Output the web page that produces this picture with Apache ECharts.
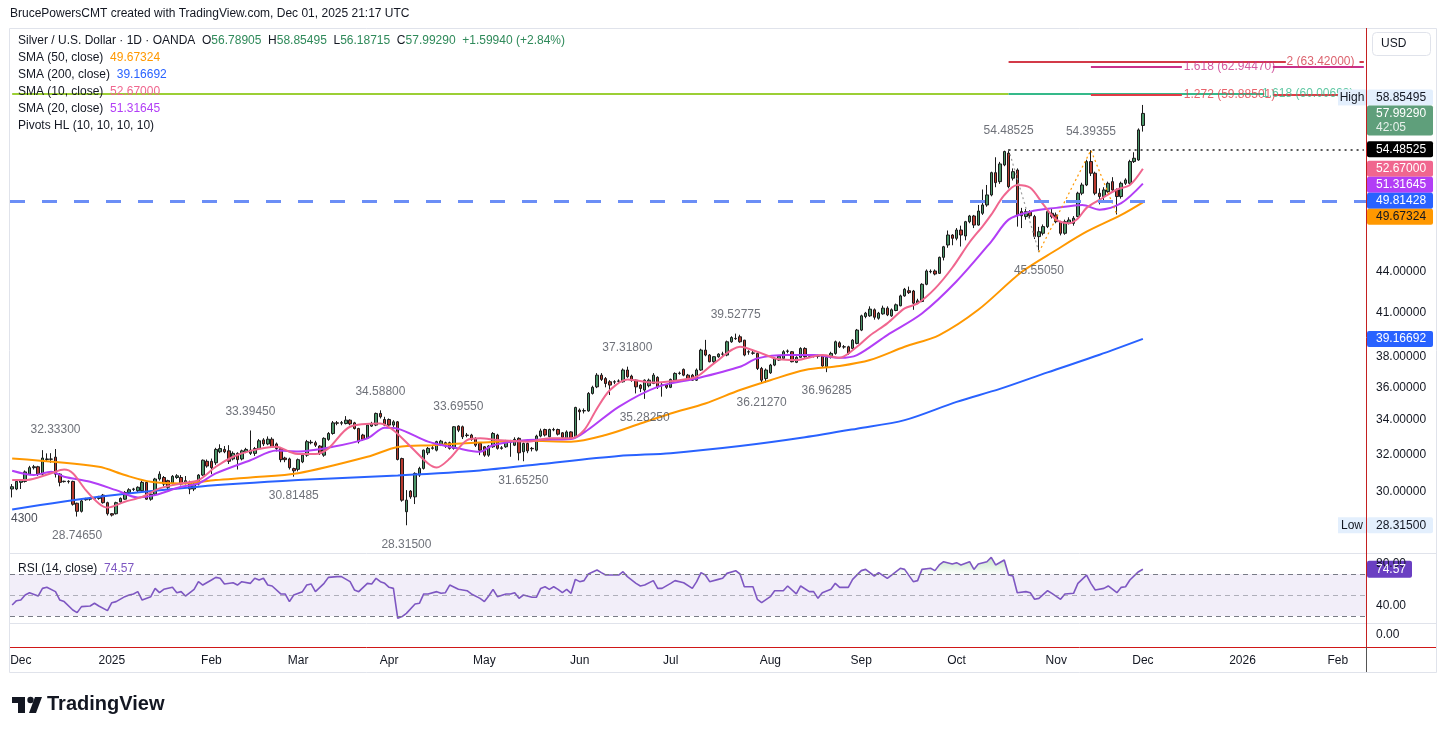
<!DOCTYPE html>
<html>
<head>
<meta charset="utf-8">
<title>Silver / U.S. Dollar · 1D · OANDA</title>
<script src="https://cdn.jsdelivr.net/npm/echarts@6/dist/echarts.min.js"></script>
<style>
  html, body { margin: 0; padding: 0; background: #ffffff; }
  #chart { width: 1445px; height: 734px; }
</style>
</head>
<body>
<div id="chart"></div>
<script>
// daily bars, first bar = 28 Nov 2024, last bar = 1 Dec 2025
const opens = [
  30.16, 30.16, 30.51, 30.56, 30.95, 31.30, 31.35, 30.95, 31.75, 31.78,
  31.88, 30.95, 30.55, 30.57, 30.56, 29.42, 29.01, 29.60, 29.63, 29.66,
  29.67, 29.84, 29.45, 28.89, 28.89, 29.49, 29.63, 29.98, 30.14, 30.07,
  30.07, 30.51, 29.63, 29.89, 30.69, 30.77, 30.60, 30.47, 30.77, 30.77,
  30.51, 30.51, 30.16, 30.42, 30.90, 31.65, 31.65, 31.57, 32.18, 32.31,
  32.23, 31.78, 32.09, 31.78, 32.18, 32.09, 32.09, 32.36, 32.85, 32.62,
  32.89, 32.62, 32.36, 31.83, 31.78, 31.25, 31.21, 31.62, 31.99, 32.72,
  32.69, 32.50, 31.99, 32.88, 33.22, 33.84, 33.82, 33.80, 34.00, 33.84,
  33.51, 33.13, 32.94, 33.65, 33.71, 34.40, 34.04, 34.04, 33.71, 33.90,
  31.80, 28.99, 30.05, 29.75, 30.90, 31.26, 32.12, 32.37, 32.27, 32.55,
  32.69, 32.69, 32.37, 33.65, 33.61, 33.10, 33.13, 32.94, 32.65, 32.46,
  31.99, 32.46, 33.13, 32.37, 32.46, 32.75, 32.55, 32.94, 32.18, 32.65,
  32.37, 32.27, 33.07, 33.45, 33.03, 33.45, 33.45, 33.26, 32.94, 33.31,
  33.00, 34.60, 34.55, 34.55, 35.62, 36.03, 36.77, 36.55, 36.35, 36.35,
  36.38, 36.35, 37.10, 36.71, 36.45, 36.14, 35.83, 36.10, 36.24, 36.63,
  36.14, 36.14, 36.00, 36.45, 36.88, 37.14, 36.77, 36.77, 36.45, 37.10,
  38.41, 38.08, 37.64, 37.97, 38.14, 38.08, 38.97, 39.20, 39.31, 39.08,
  38.30, 38.22, 38.19, 37.20, 36.55, 36.92, 37.42, 37.75, 37.86, 38.33,
  38.30, 37.60, 37.93, 38.52, 38.00, 38.02, 38.02, 38.02, 37.31, 37.93,
  38.19, 38.90, 38.63, 38.63, 38.52, 38.86, 39.77, 40.72, 40.77, 41.20,
  40.60, 40.91, 41.32, 40.77, 41.15, 41.49, 42.21, 42.59, 42.57, 41.68,
  41.80, 43.07, 44.02, 44.08, 43.90, 45.14, 46.12, 46.93, 46.66, 47.34,
  46.85, 48.03, 48.51, 47.75, 48.74, 49.45, 50.32, 52.31, 51.50, 53.02,
  54.12, 51.81, 52.55, 48.88, 48.46, 48.88, 48.46, 46.80, 47.07, 47.62,
  48.74, 48.60, 48.03, 47.07, 47.89, 47.89, 48.46, 50.47, 51.20, 53.33,
  52.26, 50.47, 50.18, 50.61, 51.50, 50.76, 50.18, 51.35, 51.35, 53.33,
  53.48, 56.78905
];
const highs = [
  30.42, 30.60, 30.69, 31.15, 31.40, 31.45, 31.40, 32.27, 32.09, 32.10,
  32.333, 31.00, 30.60, 30.62, 30.60, 29.45, 29.60, 29.70, 29.72, 29.72,
  29.80, 29.90, 29.50, 28.92, 29.50, 29.72, 30.05, 30.20, 30.22, 30.30,
  30.60, 30.55, 29.95, 30.75, 31.10, 30.85, 30.65, 30.90, 30.95, 30.90,
  30.85, 30.60, 30.50, 30.95, 31.75, 31.75, 31.80, 32.40, 32.60, 32.50,
  32.55, 32.20, 32.15, 32.30, 32.40, 33.3945, 32.45, 32.90, 32.95, 33.05,
  33.00, 32.70, 32.45, 31.90, 31.85, 31.30, 31.80, 32.05, 32.85, 32.85,
  32.80, 32.55, 33.00, 33.30, 33.95, 33.95, 33.95, 34.24, 34.05, 33.90,
  33.55, 33.20, 33.75, 33.90, 34.45, 34.588, 34.20, 34.10, 34.00, 33.95,
  31.85, 30.10, 30.10, 31.05, 31.35, 32.30, 32.45, 32.55, 32.80, 32.85,
  32.75, 32.75, 33.65, 33.6955, 33.68, 33.25, 33.20, 33.00, 32.70, 32.50,
  32.55, 33.30, 33.20, 32.50, 32.85, 32.85, 33.00, 33.00, 32.70, 32.70,
  32.45, 33.15, 33.50, 33.50, 33.50, 33.55, 33.50, 33.30, 33.40, 33.35,
  34.80, 34.70, 34.70, 35.70, 36.10, 36.90, 36.90, 36.65, 36.45, 36.45,
  36.50, 37.20, 37.318, 36.80, 36.50, 36.20, 36.50, 36.55, 36.90, 36.70,
  36.30, 36.20, 36.55, 36.95, 37.00, 37.20, 36.85, 36.85, 37.20, 38.50,
  39.10, 38.15, 38.00, 38.20, 38.30, 39.05, 39.35, 39.52775, 39.45, 39.10,
  38.40, 38.35, 38.25, 37.30, 37.20, 37.50, 37.95, 38.05, 38.40, 38.45,
  38.35, 38.00, 38.60, 38.60, 38.10, 38.12, 38.10, 38.05, 38.00, 38.30,
  39.05, 39.00, 38.75, 38.70, 39.15, 39.85, 40.85, 41.05, 41.45, 41.30,
  41.05, 41.50, 41.45, 41.30, 41.65, 42.30, 42.80, 42.90, 42.65, 42.00,
  43.15, 44.20, 44.20, 44.20, 45.20, 46.05, 47.30, 47.00, 47.50, 47.70,
  48.10, 48.60, 48.60, 49.45, 50.80, 51.20, 52.40, 53.73, 53.30, 54.35,
  54.48525, 52.70, 52.70, 49.20, 49.10, 49.00, 48.60, 47.60, 47.80, 49.00,
  49.10, 48.80, 48.10, 48.20, 48.40, 48.50, 50.60, 51.40, 53.50, 54.39355,
  52.40, 50.90, 51.00, 51.50, 51.90, 50.90, 51.50, 51.80, 53.50, 54.20,
  56.50, 58.85495
];
const lows = [
  29.72, 30.10, 30.16, 30.50, 30.90, 31.20, 30.85, 30.90, 31.65, 31.57,
  30.77, 30.30, 30.50, 30.45, 29.30, 28.7465, 28.95, 29.55, 29.55, 29.60,
  29.60, 29.40, 28.80, 28.75, 28.85, 29.45, 29.60, 29.90, 30.05, 30.00,
  30.00, 29.60, 29.55, 29.85, 30.60, 30.30, 30.10, 30.40, 30.70, 30.35,
  30.40, 29.89, 30.05, 30.35, 30.85, 31.30, 30.95, 31.45, 32.10, 32.10,
  31.50, 31.70, 31.20, 31.70, 32.10, 32.00, 31.95, 32.30, 32.50, 32.55,
  32.40, 32.20, 31.60, 31.60, 31.20, 30.81485, 31.10, 31.55, 31.90, 32.60,
  32.45, 32.00, 31.90, 32.80, 33.15, 33.70, 33.70, 33.75, 33.70, 33.45,
  32.65, 32.80, 32.90, 33.60, 33.65, 34.10, 33.65, 33.60, 33.60, 31.70,
  29.50, 28.315, 29.65, 29.38, 30.80, 31.20, 32.00, 32.30, 32.20, 32.50,
  32.40, 32.30, 32.30, 33.30, 32.90, 33.00, 32.80, 32.45, 31.99, 31.90,
  31.90, 32.40, 32.30, 32.30, 32.40, 31.90, 32.50, 31.70, 31.6525, 32.10,
  32.20, 32.20, 33.00, 33.05, 33.00, 33.35, 33.10, 32.95, 32.85, 32.85,
  32.95, 34.00, 34.40, 34.50, 35.55, 35.95, 36.40, 36.00, 35.52, 36.20,
  36.25, 36.30, 36.60, 36.35, 35.62, 35.70, 35.2825, 36.00, 36.20, 35.90,
  35.42, 35.90, 35.95, 36.40, 36.80, 36.70, 36.40, 36.40, 36.40, 37.05,
  38.00, 37.60, 37.50, 37.90, 38.00, 38.00, 38.90, 39.10, 38.90, 38.00,
  38.10, 38.10, 37.10, 36.2127, 36.30, 36.85, 37.35, 37.70, 37.80, 38.20,
  37.60, 37.55, 37.90, 37.90, 37.90, 37.92, 37.85, 37.30, 36.96285, 37.85,
  38.10, 38.55, 38.50, 38.10, 38.45, 38.80, 39.70, 40.60, 40.70, 40.50,
  40.50, 40.85, 40.75, 40.70, 41.10, 41.45, 42.15, 42.35, 41.20, 41.60,
  41.75, 43.00, 43.90, 43.75, 43.85, 44.90, 45.90, 46.10, 46.50, 46.00,
  46.50, 47.90, 47.50, 47.70, 48.60, 49.30, 50.20, 51.00, 51.30, 52.90,
  50.90, 51.60, 47.62, 47.50, 48.20, 48.30, 46.60, 45.5505, 46.90, 47.50,
  48.30, 47.90, 46.90, 46.95, 47.80, 47.70, 48.40, 50.30, 51.10, 52.00,
  50.30, 49.50, 49.80, 50.50, 50.60, 48.63665, 50.00, 51.20, 51.20, 53.20,
  53.40, 56.18715
];
const closes = [
  30.28, 30.56, 30.60, 31.07, 31.30, 31.35, 30.95, 31.83, 31.78, 31.76,
  30.95, 30.51, 30.57, 30.55, 29.37, 29.01, 29.54, 29.63, 29.66, 29.67,
  29.77, 29.45, 28.89, 28.82, 29.45, 29.67, 29.98, 30.12, 30.16, 30.25,
  30.51, 29.63, 29.89, 30.69, 30.95, 30.42, 30.25, 30.83, 30.86, 30.42,
  30.60, 30.16, 30.42, 30.90, 31.71, 31.39, 31.30, 32.31, 32.36, 32.18,
  31.65, 32.09, 31.74, 32.23, 32.31, 32.27, 32.36, 32.80, 32.62, 32.89,
  32.45, 32.36, 31.74, 31.74, 31.30, 31.13, 31.74, 31.99, 32.75, 32.69,
  32.55, 32.08, 32.94, 33.22, 33.84, 33.82, 33.85, 34.00, 33.78, 33.51,
  32.75, 32.88, 33.71, 33.80, 34.40, 34.20, 33.71, 33.71, 33.90, 31.75,
  29.58, 29.58, 29.75, 30.99, 31.26, 32.27, 32.37, 32.40, 32.75, 32.78,
  32.50, 32.37, 33.61, 33.41, 33.03, 33.13, 32.88, 32.55, 32.27, 31.99,
  32.50, 33.22, 32.37, 32.40, 32.75, 32.72, 32.88, 32.12, 32.65, 32.23,
  32.35, 33.07, 33.37, 33.13, 33.45, 33.43, 33.18, 33.00, 33.31, 32.94,
  34.76, 34.50, 34.57, 35.62, 36.00, 36.77, 36.50, 36.24, 36.14, 36.33,
  36.40, 37.10, 36.67, 36.45, 36.03, 35.93, 36.45, 36.45, 36.77, 36.03,
  36.12, 36.00, 36.50, 36.88, 36.90, 36.77, 36.45, 36.45, 37.10, 38.41,
  38.08, 37.64, 37.97, 38.14, 38.15, 38.97, 39.26, 39.18, 38.97, 38.08,
  38.28, 38.20, 37.20, 36.45, 37.10, 37.42, 37.86, 38.00, 38.30, 38.35,
  37.64, 37.93, 38.52, 37.97, 38.02, 38.05, 38.00, 37.36, 37.93, 38.19,
  38.97, 38.63, 38.62, 38.19, 39.08, 39.77, 40.77, 40.96, 41.25, 40.67,
  40.96, 41.32, 40.84, 41.20, 41.56, 42.21, 42.70, 42.45, 41.68, 41.85,
  43.07, 44.08, 44.05, 43.85, 45.14, 45.98, 46.93, 46.66, 47.34, 46.93,
  48.03, 48.51, 47.75, 48.93, 49.45, 50.32, 52.31, 51.41, 53.11, 54.27,
  51.05, 52.40, 48.60, 48.53, 48.88, 48.53, 46.80, 47.20, 47.62, 48.88,
  48.46, 48.03, 47.07, 48.03, 48.17, 48.32, 50.47, 51.20, 53.33, 52.26,
  50.47, 50.18, 50.76, 51.35, 50.76, 50.18, 51.35, 51.65, 53.33, 53.64,
  56.35, 57.99290
];

// moving averages, read as [bar, value] points along each line
const sma10Points = [
  [0, 30.63], [3, 30.63], [6, 30.77], [9, 31.0], [12, 31.2], [14, 31.0], [17, 30.1], [20, 29.41],
  [22, 29.2], [26, 29.5], [30, 29.75], [34, 30.19], [39, 30.45], [43, 30.63], [47, 31.35], [51, 31.9],
  [55, 32.23], [61, 32.46], [64, 32.18], [66, 32.05], [70, 32.05], [73, 32.37], [78, 33.61], [85, 33.8],
  [88, 33.41], [92, 32.46], [96, 31.53], [98, 31.31], [101, 31.8], [105, 32.84], [108, 32.94], [112, 32.84],
  [119, 32.75], [124, 32.94], [129, 32.94], [132, 33.41], [135, 34.7], [138, 35.83], [142, 36.5], [148, 36.3],
  [154, 36.45], [158, 36.67], [162, 37.53], [168, 38.63], [172, 38.3], [177, 37.8], [181, 37.75], [187, 38.08],
  [191, 37.9], [195, 38.63], [198, 39.4], [202, 40.24], [206, 41.3], [209, 41.66], [213, 42.75], [217, 44.33],
  [221, 46.34], [224, 47.65], [226, 48.62], [229, 50.3], [232, 51.19], [235, 50.95], [238, 49.5], [241, 48.2],
  [244, 47.9], [246, 48.3], [248, 49.2], [251, 49.9], [255, 50.8], [258, 51.2], [261, 52.67]
];
const sma20Points = [
  [0, 31.13], [5, 30.9], [9, 31.08], [12, 30.81], [18, 30.54], [24, 30.1], [29, 29.72], [33, 29.84],
  [39, 30.28], [43, 30.45], [47, 30.99], [55, 31.71], [61, 32.25], [66, 32.2], [74, 32.46], [82, 32.94],
  [86, 33.55], [89, 33.5], [96, 32.75], [103, 32.37], [108, 32.18], [111, 32.55], [119, 32.84], [129, 32.9],
  [133, 33.45], [140, 34.8], [149, 36.03], [158, 36.56], [168, 37.31], [172, 37.86], [179, 38.08], [185, 38.08],
  [191, 37.9], [195, 38.08], [202, 39.43], [210, 40.94], [218, 43.3], [226, 46.4], [230, 48.2], [235, 48.88],
  [241, 49.2], [247, 49.45], [251, 49.05], [256, 49.6], [261, 51.31645]
];
const sma50Points = [
  [0, 31.8], [20, 31.35], [26, 30.9], [32, 30.54], [39, 30.45], [47, 30.63], [55, 30.77], [66, 31.0],
  [82, 31.9], [89, 32.45], [97, 32.55], [108, 32.7], [119, 32.8], [129, 32.75], [137, 33.13], [145, 33.8],
  [152, 34.4], [160, 35.0], [168, 35.83], [175, 36.45], [183, 37.1], [191, 37.36], [198, 37.75], [206, 38.63],
  [214, 39.43], [223, 41.2], [233, 44.0], [241, 45.72], [248, 47.2], [256, 48.6], [261, 49.67324]
];
const sma200Points = [
  [0, 29.1], [20, 29.75], [43, 30.28], [66, 30.63], [89, 30.88], [108, 31.15], [122, 31.5], [140, 31.94],
  [152, 32.1], [168, 32.5], [183, 33.0], [195, 33.5], [206, 34.0], [218, 35.1], [228, 35.9], [239, 36.95],
  [251, 38.1], [261, 39.16692]
];

// RSI(14) read as [bar, value]
const rsiPoints = [
  [0, 40.5], [1, 44.6], [2, 45.2], [3, 50], [4, 52.2], [6, 49], [7, 56.3], [8, 57.3], [10, 53.2], [11, 45.2],
  [12, 43.7], [14, 35.7], [15, 33.2], [16, 38.9], [18, 39.5], [19, 42.1], [20, 39.5], [22, 35.1], [23, 42.7], [24, 43.7],
  [26, 48.4], [27, 50], [28, 51], [29, 53.2], [30, 45.2], [32, 48.4], [33, 56.3], [34, 52.2], [35, 55.4], [37, 57.3],
  [38, 52.2], [39, 53.2], [40, 49], [42, 55.4], [43, 62.7], [44, 59.5], [46, 64.3], [47, 66.8], [48, 65.9], [49, 60.5],
  [51, 61.7], [52, 59.5], [53, 62.7], [55, 61.1], [56, 65.9], [57, 64.3], [58, 65.9], [59, 59.5], [60, 58.6], [62, 51],
  [63, 51], [64, 43.7], [65, 50], [67, 53.2], [68, 59.5], [69, 60.5], [70, 53.2], [72, 61.1], [73, 66.8], [75, 67.5],
  [76, 67.5], [78, 62.7], [79, 54.8], [80, 53.2], [82, 61.1], [83, 60.5], [84, 65.9], [85, 62.7], [86, 61.1], [87, 57.3],
  [88, 56.3], [89, 27.8], [90, 29.4], [91, 32.5], [93, 41.4], [94, 42.1], [95, 51], [96, 51], [98, 53.2], [99, 51.6],
  [100, 52.2], [101, 59.5], [103, 55.4], [105, 54.1], [106, 51], [108, 46.8], [109, 43.7], [110, 49], [111, 55.4], [112, 48.4],
  [114, 51], [115, 51], [116, 52.2], [117, 46.8], [118, 50], [120, 47.8], [121, 47.8], [122, 56.3], [123, 57.9], [124, 55.4],
  [125, 57.9], [126, 55.4], [127, 52.2], [128, 55.4], [129, 51.6], [130, 64.9], [131, 62.7], [132, 63.7], [133, 70], [135, 73.8],
  [136, 71.3], [137, 69], [139, 69], [140, 69], [141, 72.2], [142, 67.5], [144, 61.1], [145, 58.6], [146, 59.5], [148, 63.7],
  [149, 56.3], [150, 56.3], [152, 61.1], [153, 63.7], [155, 61.7], [157, 56.3], [158, 62.7], [159, 71.3], [160, 69], [161, 62.7],
  [163, 64.9], [164, 65.9], [165, 70.6], [167, 73.2], [168, 70], [169, 57.9], [171, 57.9], [172, 45.9], [173, 42.7], [175, 48.4],
  [176, 54.1], [178, 54.1], [179, 58.6], [181, 51], [182, 58.6], [184, 53.2], [185, 53.2], [186, 46.8], [187, 52.2], [189, 55.4],
  [190, 61.1], [191, 57.3], [193, 57.3], [194, 64.9], [196, 73.2], [197, 74.4], [199, 68.1], [200, 71.3], [202, 65.9], [203, 69],
  [205, 75.4], [206, 74.4], [208, 62.7], [209, 63.7], [210, 74.4], [212, 75.4], [213, 73.2], [214, 78.6], [215, 81.7], [217, 79.5],
  [218, 80.8], [219, 78.6], [221, 81.7], [222, 74.4], [223, 79.5], [225, 81.7], [226, 85.9], [227, 78.6], [229, 83.3], [230, 69],
  [231, 68.1], [232, 52.2], [234, 53.2], [235, 52.2], [236, 45.9], [237, 46.8], [239, 54.1], [240, 51.6], [242, 45.9], [243, 51],
  [245, 51.6], [246, 61.1], [248, 69], [249, 61.1], [250, 54.8], [252, 56.3], [253, 58.6], [255, 52.2], [256, 57.3], [257, 57.9],
  [258, 64.3], [260, 72.2], [261, 74.57]
];

// pivots HL (10,10,10,10)
const pivotHighBars = [10, 55, 85, 103, 142, 167, 230, 249];
const pivotHighVals = [32.333, 33.3945, 34.588, 33.6955, 37.318, 39.52775, 54.48525, 54.39355];
const pivotLowBars = [15, 65, 91, 118, 146, 173, 188, 237];
const pivotLowVals = [28.7465, 30.81485, 28.315, 31.6525, 35.2825, 36.2127, 36.96285, 45.5505];

// drawings: dashed support line, fib level lines and their captions
const hLineLevel = 49.81428;
const fibNames = ['2', '1.618', '1.272', '1.618'];
const fibVals = [63.42, 62.9447, 59.88501, 60.00693];
const fibColors = ['#d33a48', '#c8318a', '#e23b46', '#35b98a'];

const priceTicks = [30, 32, 34, 36, 38, 41, 44];
const rsiTicks = [40, 80];
const lastRsi = 74.57;

// weekday calendar (OANDA had no bar on 25 Dec 2024), running past the last bar into Feb 2026
const dates = (function () {
  const res = [];
  let d = new Date(Date.UTC(2024, 10, 28));
  while (res.length < 313) {
    const key = d.toISOString().slice(0, 10);
    const wd = d.getUTCDay();
    if (wd !== 0 && wd !== 6 && key !== '2024-12-25') res.push(key);
    d = new Date(+d + 86400000);
  }
  return res;
})();
const monthNames = ['Jan', 'Feb', 'Mar', 'Apr', 'May', 'Jun', 'Jul', 'Aug', 'Sep', 'Oct', 'Nov', 'Dec'];

const FONT = "'Liberation Sans', Arial, sans-serif";
const ink = '#131722';
const upColor = '#4b9468';
const downColor = '#b8392e';
const lastBar = dates.length - 1;

const chart = echarts.init(document.getElementById('chart'));

function segment(from, to, value, style) {
  return [{ coord: [from, value], lineStyle: style }, { coord: [to, value] }];
}
const solid = (color, width) => ({ color, width: width || 2, type: 'solid' });

const hiddenAxis = {
  axisLine: { show: false }, axisTick: { show: false },
  axisLabel: { show: false }, splitLine: { show: false }
};

const option = {
  animation: false,
  backgroundColor: '#ffffff',
  textStyle: { fontFamily: FONT },
  grid: [
    { left: 10, right: 79, top: 28, height: 525 },
    { left: 10, right: 79, top: 553, height: 70 },
    { left: 10, right: 79, top: 623, height: 24 }
  ],
  xAxis: [0, 1, 2].map(g => Object.assign({
    type: 'category', gridIndex: g, data: dates, boundaryGap: true
  }, hiddenAxis, g === 2 ? {
    axisLabel: {
      show: true, color: ink, fontSize: 12, fontFamily: FONT, margin: 8,
      interval: (i, v) => i > 0 && v.slice(5, 7) !== dates[i - 1].slice(5, 7),
      formatter: v => (v.slice(5, 7) === '01' ? v.slice(0, 4) : monthNames[+v.slice(5, 7) - 1])
    }
  } : {})),
  yAxis: [
    Object.assign({ type: 'log', gridIndex: 0, position: 'right', min: 26.98, max: 67.29 }, hiddenAxis),
    Object.assign({ type: 'value', gridIndex: 1, position: 'right', min: 23.33, max: 90 }, hiddenAxis),
    Object.assign({ type: 'value', gridIndex: 2, position: 'right', min: -1, max: 1 }, hiddenAxis)
  ],
  series: [
    {
      name: 'XAGUSD', type: 'candlestick', xAxisIndex: 0, yAxisIndex: 0, z: 2,
      data: opens.map((o, i) => [o, closes[i], lows[i], highs[i]]),
      barWidth: 3,
      itemStyle: { color: upColor, color0: downColor, borderColor: '#1b1b1b', borderColor0: '#1b1b1b', borderWidth: 1 },
      markLine: {
        silent: true, symbol: ['none', 'none'], label: { show: false }, animation: false,
        data: [
          { yAxis: hLineLevel, lineStyle: { color: '#6b8ef6', width: 3, type: [15, 17] } },
          segment(0, 230, fibVals[3], solid('#9ccf35')),
          segment(230, 289, fibVals[3], solid(fibColors[3])),
          segment(230, 294, fibVals[0], solid(fibColors[0])),
          segment(311, lastBar, fibVals[0], solid(fibColors[0])),
          segment(249, 270, fibVals[1], solid(fibColors[1])),
          segment(291, lastBar, fibVals[1], solid(fibColors[1])),
          segment(249, 270, fibVals[2], solid(fibColors[2])),
          segment(291, lastBar, fibVals[2], solid(fibColors[2])),
          segment(230, lastBar, pivotHighVals[6], { color: '#222222', width: 1.5, type: [2, 4] })
        ]
      }
    },
    { name: 'SMA200', type: 'line', data: sma200Points, smooth: 0.3, showSymbol: false, z: 3, lineStyle: { color: '#2962ff', width: 2 } },
    { name: 'SMA50', type: 'line', data: sma50Points, smooth: 0.3, showSymbol: false, z: 3, lineStyle: { color: '#ff9800', width: 2 } },
    { name: 'SMA20', type: 'line', data: sma20Points, smooth: 0.3, showSymbol: false, z: 3, lineStyle: { color: '#b23ef6', width: 2 } },
    { name: 'SMA10', type: 'line', data: sma10Points, smooth: 0.3, showSymbol: false, z: 3, lineStyle: { color: '#f0668f', width: 2 } },
    {
      name: 'zigzag-a', type: 'line', showSymbol: false, z: 4,
      data: [[pivotHighBars[6], pivotHighVals[6]], [pivotLowBars[7], pivotLowVals[7]]],
      lineStyle: { color: '#9e9e9e', width: 1.2, type: [2, 3] }
    },
    {
      name: 'zigzag-b', type: 'line', showSymbol: false, z: 4,
      data: [[pivotLowBars[7], pivotLowVals[7]], [pivotHighBars[7], pivotHighVals[7]], [255, lows[255]]],
      lineStyle: { color: '#ff9800', width: 1.2, type: [2, 3] }
    },
    {
      name: 'pivot-high', type: 'scatter', symbolSize: 0, silent: true, z: 6,
      data: pivotHighBars.map((b, i) => [b, pivotHighVals[i]]),
      label: { show: true, position: 'top', distance: 13, color: '#4a4d57', fontSize: 12, fontFamily: FONT,
        formatter: p => p.value[1].toFixed(5) }
    },
    {
      name: 'pivot-low', type: 'scatter', symbolSize: 0, silent: true, z: 6,
      data: pivotLowBars.map((b, i) => [b, pivotLowVals[i]]),
      label: { show: true, position: 'bottom', distance: 13, color: '#4a4d57', fontSize: 12, fontFamily: FONT,
        formatter: p => p.value[1].toFixed(5) }
    },
    {
      name: 'fib-labels', type: 'scatter', symbolSize: 0, silent: true, z: 6,
      data: [302, 281, 281, 311].map((bar, i) => ({
        value: [bar, fibVals[i]],
        label: i === 3 ? { color: fibColors[i], position: 'left', distance: 6 } : { color: fibColors[i] }
      })),
      label: { show: true, position: 'inside', fontSize: 12, fontFamily: FONT,
        formatter: p => fibNames[p.dataIndex] + ' (' + fibVals[p.dataIndex].toFixed(5) + ')' }
    },
    {
      name: 'RSI', type: 'line', xAxisIndex: 1, yAxisIndex: 1, data: rsiPoints, showSymbol: false, z: 4,
      lineStyle: { color: '#7e57c2', width: 1.6 },
      markArea: { silent: true, itemStyle: { color: 'rgba(126,87,194,0.1)' }, data: [[{ yAxis: 30 }, { yAxis: 70 }]] },
      markLine: {
        silent: true, symbol: ['none', 'none'], label: { show: false },
        data: [
          { yAxis: 70, lineStyle: { color: '#787b86', type: [5, 4], width: 1 } },
          { yAxis: 50, lineStyle: { color: 'rgba(120,123,134,0.55)', type: [5, 4], width: 1 } },
          { yAxis: 30, lineStyle: { color: '#787b86', type: [5, 4], width: 1 } }
        ]
      }
    },
    {
      name: 'ob-base', type: 'line', xAxisIndex: 1, yAxisIndex: 1, stack: 'ob', showSymbol: false, silent: true,
      data: rsiPoints.map(p => [p[0], 70]), lineStyle: { opacity: 0 }
    },
    {
      name: 'ob-fill', type: 'line', xAxisIndex: 1, yAxisIndex: 1, stack: 'ob', showSymbol: false, silent: true,
      data: rsiPoints.map(p => [p[0], Math.max(0, p[1] - 70)]), lineStyle: { opacity: 0 },
      areaStyle: {
        color: new echarts.graphic.LinearGradient(0, 0, 0, 1, [
          { offset: 0, color: 'rgba(76,175,80,0.45)' },
          { offset: 1, color: 'rgba(76,175,80,0.03)' }
        ])
      }
    }
  ]
};

chart.setOption(option);

// ---- overlay: frame, header, price scale tags ----
const g = [];
function text(x, y, str, style) {
  g.push({ type: 'text', x, y, silent: true, z: 100,
    style: Object.assign({ text: str, fill: ink, fontSize: 12, fontFamily: FONT, verticalAlign: 'middle' }, style || {}) });
}
function rect(x, y, w, h, style, r) {
  g.push({ type: 'rect', silent: true, z: 90, shape: { x, y, width: w, height: h, r: r || 0 }, style });
}
function line(x1, y1, x2, y2, stroke, w) {
  g.push({ type: 'line', silent: true, z: 95, shape: { x1, y1, x2, y2 }, style: { stroke, lineWidth: w || 1 } });
}

// frame and pane borders
rect(9.5, 28.5, 1427, 644, { fill: null, stroke: '#e0e3eb', lineWidth: 1 });
line(10, 553.5, 1436, 553.5, '#e0e3eb');
line(10, 623.5, 1436, 623.5, '#e0e3eb');
line(10, 647.5, 1436, 647.5, '#d01717');
line(1366.5, 28, 1366.5, 647, '#c42020');
line(1366.5, 647, 1366.5, 672, '#555555');

text(10, 14, 'BrucePowersCMT created with TradingView.com, Dec 01, 2025 21:17 UTC', { fontSize: 12 });

const green = '#2f8a5a';
const rich = {
  k: { fill: ink, fontSize: 12, fontFamily: FONT },
  g: { fill: green, fontSize: 12, fontFamily: FONT },
  o: { fill: '#ff9800', fontSize: 12, fontFamily: FONT },
  b: { fill: '#2962ff', fontSize: 12, fontFamily: FONT },
  p: { fill: '#f0668f', fontSize: 12, fontFamily: FONT },
  v: { fill: '#b23ef6', fontSize: 12, fontFamily: FONT },
  r: { fill: '#7e57c2', fontSize: 12, fontFamily: FONT }
};
const f5 = v => v.toFixed(5);
const last = closes.length - 1;
text(18, 41, '{k|Silver / U.S. Dollar · 1D · OANDA}  {k|O}{g|' + f5(opens[last]) + '}  {k|H}{g|' + f5(highs[last]) +
  '}  {k|L}{g|' + f5(lows[last]) + '}  {k|C}{g|' + f5(closes[last]) + '}  {g|+1.59940 (+2.84%)}', { rich });
text(18, 58, '{k|SMA (50, close)}  {o|' + f5(sma50Points[sma50Points.length - 1][1]) + '}', { rich });
text(18, 75, '{k|SMA (200, close)}  {b|' + f5(sma200Points[sma200Points.length - 1][1]) + '}', { rich });
text(18, 92, '{k|SMA (10, close)}  {p|' + f5(sma10Points[sma10Points.length - 1][1]) + '}', { rich });
text(18, 109, '{k|SMA (20, close)}  {v|' + f5(sma20Points[sma20Points.length - 1][1]) + '}', { rich });
text(18, 126, '{k|Pivots HL (10, 10, 10, 10)}', { rich });
text(18, 569, '{k|RSI (14, close)}  {r|' + lastRsi.toFixed(2) + '}', { rich });
text(11, 519, '4300', { fill: '#4a4d57' });

// price scale
rect(1372.5, 32.5, 58, 23, { fill: '#ffffff', stroke: '#e0e3eb', lineWidth: 1 }, 4);
text(1381, 44, 'USD');
const yPx = v => chart.convertToPixel({ yAxisIndex: 0 }, v);
const rsiPx = v => chart.convertToPixel({ yAxisIndex: 1 }, v);
priceTicks.forEach(v => text(1376, yPx(v), v.toFixed(5)));
rsiTicks.forEach(v => text(1376, rsiPx(v), v.toFixed(2)));
text(1376, chart.convertToPixel({ yAxisIndex: 2 }, 0), '0.00');

const tags = [
  { v: highs[last], bg: '#e3effd', fg: ink, side: 'High' },
  { v: closes[last], bg: '#5f9f7b', fg: '#ffffff', sub: '42:05' },
  { v: pivotHighVals[6], bg: '#000000', fg: '#ffffff' },
  { v: sma10Points[sma10Points.length - 1][1], bg: '#f0668f', fg: '#ffffff' },
  { v: sma20Points[sma20Points.length - 1][1], bg: '#b23ef6', fg: '#ffffff' },
  { v: hLineLevel, bg: '#2962ff', fg: '#ffffff' },
  { v: sma50Points[sma50Points.length - 1][1], bg: '#ff9800', fg: ink },
  { v: sma200Points[sma200Points.length - 1][1], bg: '#2962ff', fg: '#ffffff' },
  { v: 28.315, bg: '#e3effd', fg: ink, side: 'Low' }
].map(t => Object.assign(t, { h: t.sub ? 30 : 16, top: yPx(t.v) - 8 }));
// the live price tag stays put, the rest are pushed away from it
const fixedIdx = tags.findIndex(t => t.sub);
for (let i = fixedIdx - 1; i >= 0; i--) {
  if (tags[i].top + tags[i].h > tags[i + 1].top) tags[i].top = tags[i + 1].top - tags[i].h;
}
for (let i = fixedIdx + 1; i < tags.length; i++) {
  if (tags[i].top < tags[i - 1].top + tags[i - 1].h) tags[i].top = tags[i - 1].top + tags[i - 1].h;
}
tags.forEach(t => {
  rect(1367, t.top, 66, t.h, { fill: t.bg }, 2);
  text(1376, t.top + 8, f5(t.v), { fill: t.fg });
  if (t.sub) text(1376, t.top + 22, t.sub, { fill: 'rgba(255,255,255,0.85)' });
  if (t.side) {
    rect(1338, t.top, 28, t.h, { fill: t.bg });
    text(1352, t.top + 8, t.side, { fill: t.fg, align: 'center' });
  }
});
const rsiTop = rsiPx(lastRsi) - 8.5;
rect(1367, rsiTop, 45, 17, { fill: '#6a3fc2' }, 2);
text(1376, rsiTop + 8.5, lastRsi.toFixed(2), { fill: '#ffffff' });

// TradingView wordmark
rect(12, 697, 13, 6, { fill: ink });
rect(18, 697, 7, 16, { fill: ink });
g.push({ type: 'circle', silent: true, z: 90, shape: { cx: 30.5, cy: 700, r: 3.2 }, style: { fill: ink } });
g.push({ type: 'polygon', silent: true, z: 90, shape: { points: [[35, 697], [42, 697], [36, 713], [29, 713]] }, style: { fill: ink } });
text(47, 704, 'TradingView', { fontSize: 20, fontWeight: 'bold', fill: ink });

chart.setOption({ graphic: g });
</script>
</body>
</html>
